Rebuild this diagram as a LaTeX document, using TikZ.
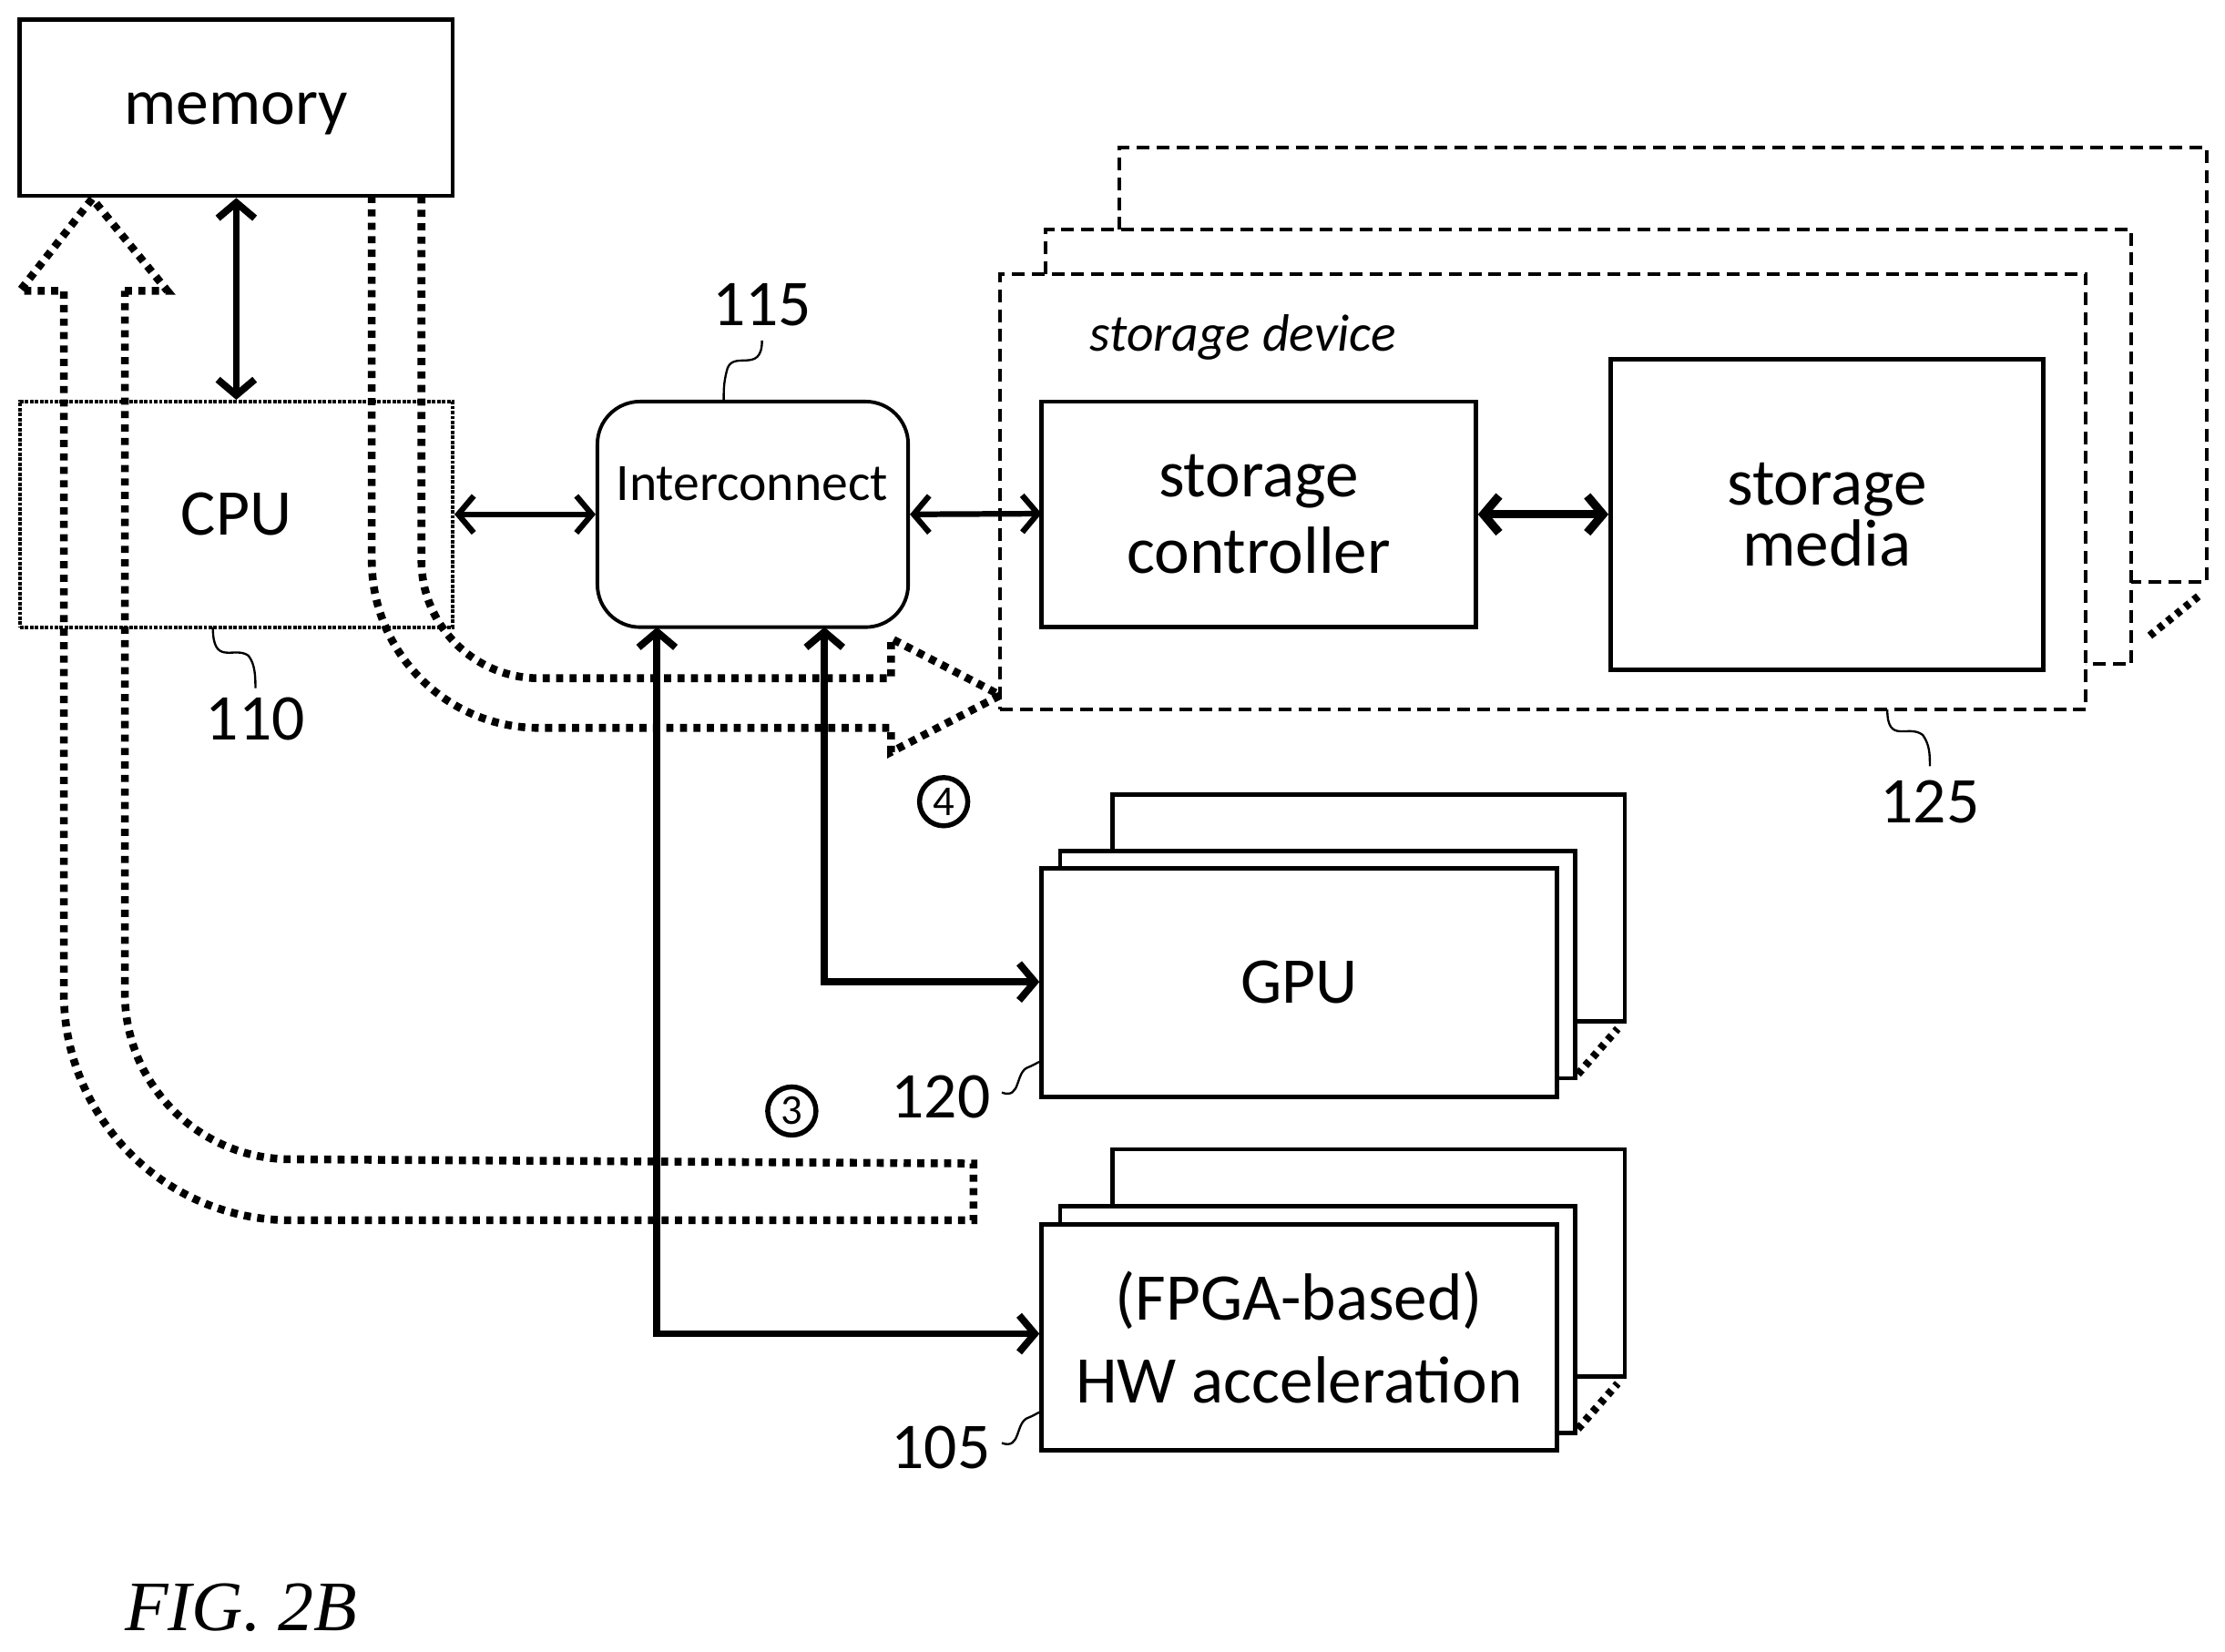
\documentclass[tikz,border=0pt]{standalone}
\usepackage{fontspec}
\setmainfont{Carlito}
\newfontfamily\figfont{Liberation Serif}
\usetikzlibrary{arrows.meta}
\begin{document}
\begin{tikzpicture}[x=1pt,y=-1pt,
 box/.style={draw,line width=3pt,inner sep=0},
 dbox/.style={draw,line width=2.5pt,dash pattern=on 9pt off 5pt},
 dot/.style={line width=5.5pt,dash pattern=on 5pt off 4.5pt},
 arr/.style={line width=5pt,{Straight Barb[length=11pt,width=26pt]}-{Straight Barb[length=11pt,width=26pt]}},
 lbl/.style={font=\fontsize{46}{48}\selectfont},
 sq/.style={line width=1.5pt},
 circ/.style={draw,circle,line width=3.5pt,minimum size=34pt,inner sep=0,font=\fontsize{30}{30}\selectfont}]
\useasboundingbox (0,0) rectangle (1568,1164);
% memory & CPU
\node[box,minimum width=305pt,minimum height=124pt] (mem) at (166.5,76) {};
\node[lbl] (memt) at (166.5,80) {memory};
\node[draw,line width=2.5pt,densely dotted,minimum width=305pt,minimum height=159pt,inner sep=0,lbl] (cpu) at (166.5,362.5) {CPU};
\draw[arr] (mem.south) -- (cpu.north);
% interconnect
\node[draw,line width=2.5pt,rounded corners=30pt,minimum width=219pt,minimum height=159pt,inner sep=0] (ic) at (530.5,362.5) {};
\node[font=\fontsize{37}{37}\selectfont] (ict) at (530,341) {Interconnect};
\node[lbl] (l115) at (537,215) {115};
\draw[sq] (537,240) .. controls (537,265) and (515,245) .. (512,262) .. controls (510,270) and (510,275) .. (510,283);
\node[lbl] (l110) at (180,507) {110};
\draw[sq] (150,442) .. controls (150,470) and (165,455) .. (175,462) .. controls (180,468) and (180,478) .. (180,485);
\draw[arr,line width=4pt] (cpu.east) -- (ic.west);
\draw[arr,line width=4pt] (ic.east) -- (734,362);
% storage device stack
\draw[dbox] (789,162) |- (1555,104) |- (1502,410);
\draw[dbox] (737,193) |- (1502,162) |- (1470,468);
\node[dbox,minimum width=765pt,minimum height=307pt,inner sep=0] (sd) at (1087.5,346.5) {};
\draw[line width=5.5pt,dash pattern=on 4pt off 4pt] (1515,448) -- (1552,418);
\node[font=\fontsize{37}{37}\selectfont\itshape] (sdt) at (876,238) {storage device};
\node[box,minimum width=306pt,minimum height=159pt,align=center,font=\fontsize{47}{54}\selectfont] (sc) at (887,362.5) {storage\\controller};
\node[box,minimum width=305pt,minimum height=219pt,align=center,font=\fontsize{47}{43}\selectfont] (sm) at (1287.5,362.5) {storage\\media};
\draw[arr,line width=6pt] (sc.east) -- (sm.west);
\node[lbl] (l125) at (1360,565) {125};
\draw[sq] (1330,500) .. controls (1330,525) and (1345,510) .. (1355,518) .. controls (1360,525) and (1360,532) .. (1360,540);
% GPU stack
\draw[box,fill=white] (784,560) rectangle (1145,720);
\draw[box,fill=white] (747,600) rectangle (1110,760);
\node[box,fill=white,minimum width=363pt,minimum height=161pt,lbl] (gpu) at (915.5,692.5) {GPU};
\draw[line width=5.5pt,dash pattern=on 4pt off 4pt] (1112,757) -- (1140,725);
\node[lbl] (l120) at (663,773) {120};
\draw[sq] (706,770) .. controls (720,775) and (715,755) .. (725,752) .. controls (730,750) and (732,748) .. (734,748);
% FPGA stack
\draw[box,fill=white] (784,810) rectangle (1145,970);
\draw[box,fill=white] (747,850) rectangle (1110,1010);
\node[box,fill=white,minimum width=363pt,minimum height=159pt,align=center,font=\fontsize{47}{58}\selectfont] (fpga) at (915.5,942.5) {(FPGA-based)\\HW acceleration};
\draw[line width=5.5pt,dash pattern=on 4pt off 4pt] (1112,1007) -- (1140,975);
\node[lbl] (l105) at (663,1020) {105};
\draw[sq] (706,1017) .. controls (720,1022) and (715,1002) .. (725,999) .. controls (730,997) and (732,995) .. (734,995);
% connectors
\coordinate (c1) at (463,442);
\coordinate (c2) at (581,442);
\draw[arr] (c1) |- (fpga.west |- 0,940);
\draw[arr] (c2) |- (gpu.west |- 0,692);
% circled numbers
\node[circ] (n4) at (665,565) {4};
\node[circ] (n3) at (558,783) {3};
% dotted arrow 3
\draw[dot] (88,205) -- (118,205) -- (65,140) -- (14,205) -- (45,205) -- (45,700) arc[start angle=180,end angle=90,radius=160] -- (686,860) -- (686,820) -- (205,817) arc[start angle=90,end angle=180,radius=117] -- cycle;
% dotted arrow 4
\draw[dot] (262,138) -- (262,395) arc[start angle=180,end angle=90,radius=118] -- (628,513) -- (628,530) -- (705,490) -- (628,450) -- (628,478) -- (380,478) arc[start angle=90,end angle=180,radius=83] -- (297,138);
% caption
\node[font=\figfont\itshape\fontsize{50}{50}\selectfont] (fig) at (170,1133) {FIG. 2B};
\end{tikzpicture}
\end{document}
